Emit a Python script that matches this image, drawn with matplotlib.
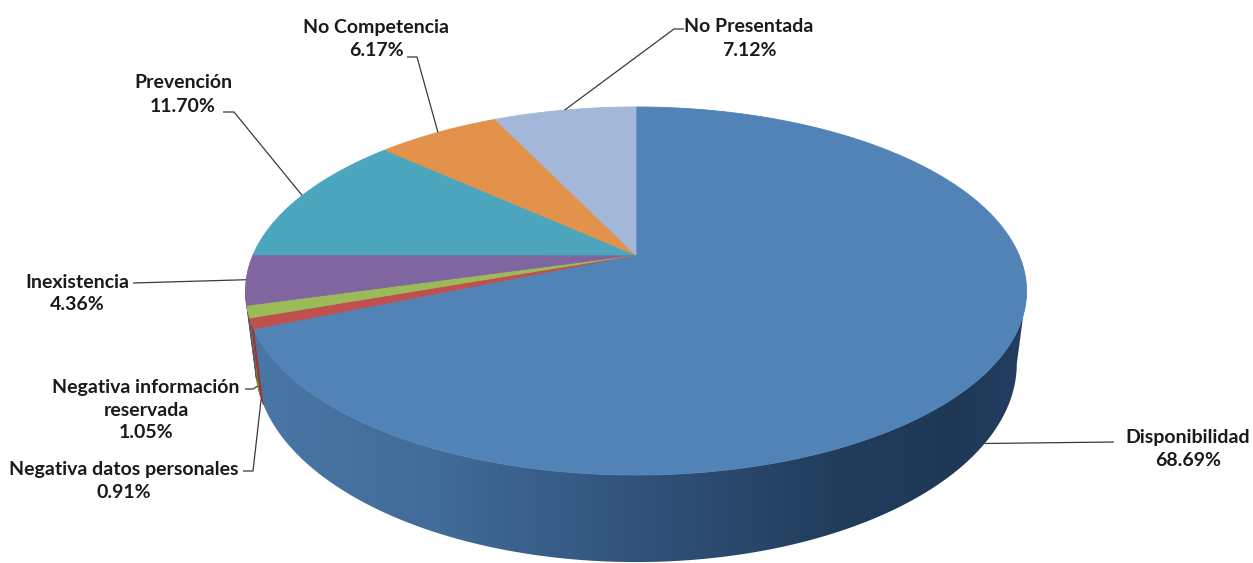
import numpy as np
import matplotlib
matplotlib.use("Agg")
import matplotlib.pyplot as plt
from matplotlib.patches import Polygon
from matplotlib.colors import LinearSegmentedColormap

# ---------------- data ----------------
categories = ["Disponibilidad", "Negativa datos personales", "Negativa información reservada",
              "Inexistencia", "Prevención", "No Competencia", "No Presentada"]
values = [68.69, 0.91, 1.05, 4.36, 11.70, 6.17, 7.12]

# ---------------- style / layout ----------------
top_colors = ["#5283b6", "#c0504d", "#9bbb59", "#7f66a0", "#4ba6be", "#e2924a", "#a3b7d8"]
side_colors = ["#3f6a97", "#8e3a38", "#728a42", "#5e4a78", "#37798c", "#a86c36", "#7987a0"]
label_lines = {"Negativa información reservada": ["Negativa información", "reservada"]}
# label block: (x, y of first line, ha)
label_pos = {
    "Disponibilidad": (1188, 438, "center"),
    "Negativa datos personales": (124, 470, "center"),
    "Negativa información reservada": (146, 387, "center"),
    "Inexistencia": (77, 282, "center"),
    "Prevención": (183, 83, "center"),
    "No Competencia": (376, 27, "center"),
    "No Presentada": (749, 27, "center"),
}
# leader start points (stub) near text
leader_start = {
    "Disponibilidad": [(1114, 442)],
    "Negativa datos personales": [(243, 471), (253, 471)],
    "Negativa información reservada": [(245, 389), (253, 389)],
    "Inexistencia": [(133, 283)],
    "Prevención": [(223, 112), (234, 112)],
    "No Competencia": [(407, 57), (417, 57)],
    "No Presentada": [(684, 29), (674, 29)],
}
LINE_GAP = 23
FONT_SIZE = 14

W, H_PX = 1253, 563
X0, Y0 = 636.0, 255.0      # apex of the pie (projected centre)
A, B, K = 383.0, 177.0, 0.1956
DEPTH = 70.0
S_BOT = 0.975              # perspective shrink of the bottom rim


def rim(theta_deg, bottom=False):
    t = np.radians(theta_deg)
    u, v = np.sin(t), np.cos(t)
    d = 1 + K * v
    s = S_BOT if bottom else 1.0
    x = X0 + s * A * u / d
    y = Y0 - B * v / d + (DEPTH / d if bottom else 0.0)
    return x, y


fig = plt.figure(figsize=(W / 100, H_PX / 100), dpi=100)
ax = fig.add_axes([0, 0, 1, 1])
ax.set_xlim(0, W)
ax.set_ylim(H_PX, 0)
ax.axis("off")

total = sum(values)
bounds = np.concatenate([[0], np.cumsum(values) / total * 360.0])

# visible front side range (silhouette)
sil = np.degrees(np.arccos(-K))
vis_lo, vis_hi = sil, 360 - sil

side_cmap = LinearSegmentedColormap.from_list(
    "side", [(0.0, "#4a78a8"), (0.25, "#416b98"), (0.5, "#31537a"),
             (0.75, "#223d5c"), (0.9, "#1f3858"), (1.0, "#243f62")])
grad = np.linspace(0, 1, 512).reshape(1, -1)

# sides
for i, val in enumerate(values):
    a0, a1 = max(bounds[i], vis_lo), min(bounds[i + 1], vis_hi)
    if a1 <= a0:
        continue
    th = np.linspace(a0, a1, 200)
    tx, ty = rim(th)
    bx, by = rim(th[::-1], bottom=True)
    pts = np.column_stack([np.concatenate([tx, bx]), np.concatenate([ty, by])])
    if i == 0:
        poly = Polygon(pts, closed=True, facecolor="none", edgecolor="none")
        ax.add_patch(poly)
        im = ax.imshow(grad, cmap=side_cmap, aspect="auto",
                       extent=(240, 1035, H_PX, 240), zorder=1, interpolation="bilinear")
        im.set_clip_path(poly)
    else:
        ax.add_patch(Polygon(pts, closed=True, facecolor=side_colors[i],
                             edgecolor=side_colors[i], lw=0.5, zorder=1.5))

# top faces
for i, val in enumerate(values):
    th = np.linspace(bounds[i], bounds[i + 1], max(int((bounds[i + 1] - bounds[i]) * 3), 4))
    tx, ty = rim(th)
    pts = np.column_stack([np.concatenate([[X0], tx]), np.concatenate([[Y0], ty])])
    ax.add_patch(Polygon(pts, closed=True, facecolor=top_colors[i],
                         edgecolor=top_colors[i], lw=0.6, zorder=2))

# labels and leaders
for i, (cat, val) in enumerate(zip(categories, values)):
    lines = label_lines.get(cat, [cat]) + [f"{val:.2f}%"]
    x, y, ha = label_pos[cat]
    for j, ln in enumerate(lines):
        ax.text(x, y + j * LINE_GAP, ln, ha=ha, va="center", fontsize=FONT_SIZE,
                fontweight="bold", family=["Lato", "DejaVu Sans"], color="#1a1a1a", zorder=5)
    mid = (bounds[i] + bounds[i + 1]) / 2
    front = vis_lo <= mid <= vis_hi
    ex, ey = rim(mid, bottom=front)
    path = leader_start[cat] + [(ex, ey)]
    px, py = zip(*path)
    ax.plot(px, py, color="#3a3a3a", lw=0.9, zorder=4, solid_capstyle="butt")

fig.savefig("out.png", dpi=100, facecolor="white")
